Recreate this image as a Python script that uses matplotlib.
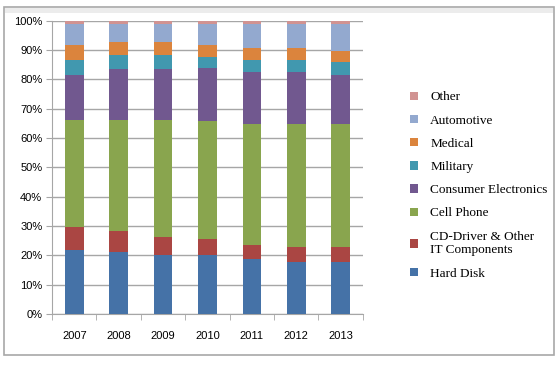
import matplotlib.pyplot as plt
from matplotlib.patches import Rectangle
import numpy as np

# Market share by application, stacked to 100%
years = ["2007", "2008", "2009", "2010", "2011", "2012", "2013"]
hard_disk = [22.0, 21.2, 20.3, 20.0, 18.9, 17.9, 17.9]
cd_driver = [7.8, 7.1, 6.0, 5.7, 4.8, 4.9, 4.9]
cell_phone = [36.3, 37.9, 39.9, 40.2, 41.1, 42.0, 42.0]
consumer = [15.5, 17.3, 17.4, 18.1, 17.9, 17.9, 16.8]
military = [5.1, 4.9, 4.8, 3.7, 4.1, 4.1, 4.3]
medical = [5.1, 4.3, 4.3, 4.1, 3.9, 3.9, 3.9]
automotive = [7.1, 6.2, 6.2, 7.1, 8.2, 8.2, 9.1]
other = [1.1, 1.1, 1.1, 1.1, 1.1, 1.1, 1.1]

series = [
    ("Hard Disk", hard_disk, "#4572A7"),
    ("CD-Driver & Other\nIT Components", cd_driver, "#AA4643"),
    ("Cell Phone", cell_phone, "#89A54E"),
    ("Consumer Electronics", consumer, "#71588F"),
    ("Military", military, "#4198AF"),
    ("Medical", medical, "#DB843D"),
    ("Automotive", automotive, "#93A9CF"),
    ("Other", other, "#D19392"),
]

plt.rcParams['font.family'] = ['Liberation Sans', 'DejaVu Sans']

fig = plt.figure(figsize=(5.6, 3.66), dpi=100)
ax = fig.add_axes([0.093, 0.142, 0.555, 0.801])

# outer chart frame
fig.patches.append(Rectangle((4 / 560, 1 - 355 / 366), 550 / 560, 348 / 366,
                             transform=fig.transFigure, fill=False,
                             edgecolor="#a8a8a8", linewidth=1.2))
fig.patches.append(Rectangle((5 / 560, 1 - 13 / 366), 548 / 560, 5 / 366,
                             transform=fig.transFigure, facecolor="#ececec",
                             edgecolor="none"))

x = np.arange(len(years))
bottom = np.zeros(len(years))
handles = []
for name, vals, color in series:
    h = ax.bar(x, vals, width=0.42, bottom=bottom, color=color, label=name,
               edgecolor="none", zorder=3)
    bottom += np.array(vals)
    handles.append(h)

ax.set_ylim(0, 100)
ax.set_xlim(-0.5, len(years) - 0.5)
ax.set_yticks(np.arange(0, 101, 10))
ax.set_yticklabels([f"{v}%" for v in range(0, 101, 10)], fontsize=8)
ax.yaxis.grid(True, color="#a6a6a6", linewidth=1, zorder=0)

ax.set_xticks(x)
ax.set_xticklabels(years, fontsize=8)
ax.tick_params(axis="x", which="major", length=0, pad=12)
ax.set_xticks(np.arange(-0.5, len(years)), minor=True)
ax.tick_params(axis="x", which="minor", length=4, color="#a6a6a6")
ax.tick_params(axis="y", length=4, color="#a6a6a6", pad=3)

for s in ["top", "right"]:
    ax.spines[s].set_visible(False)
for s in ["left", "bottom"]:
    ax.spines[s].set_color("#a6a6a6")

leg = ax.legend(handles[::-1], [s[0] for s in series][::-1],
                loc="upper left", bbox_to_anchor=(1.113, 0.80), frameon=False,
                prop={"family": "Liberation Serif", "size": 9.5},
                handlelength=0.6, handleheight=0.6, handletextpad=0.95,
                labelspacing=0.85)

fig.savefig("out.png", dpi=100)
